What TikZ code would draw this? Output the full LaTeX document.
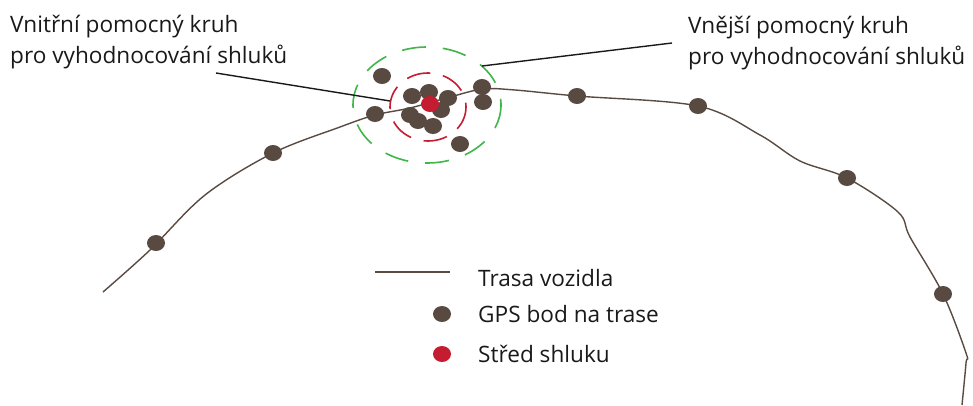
\documentclass[tikz,border=0pt]{standalone}
\usepackage{fontspec}
\setmainfont{Open Sans}
\usetikzlibrary{shapes.geometric}
\definecolor{trackc}{RGB}{90,75,66}
\definecolor{dotc}{RGB}{88,74,64}
\definecolor{centerc}{RGB}{196,28,48}
\definecolor{outerc}{RGB}{62,182,72}
\tikzset{
  gps/.style={ellipse, fill=dotc, inner sep=0pt, minimum width=18pt, minimum height=16pt},
  ctr/.style={ellipse, fill=centerc, inner sep=0pt, minimum width=18pt, minimum height=16pt},
  track/.style={draw=trackc, line width=1.4pt},
  leader/.style={draw=black!90, line width=1.4pt},
  outerring/.style={draw=outerc, line width=1.6pt, dash pattern=on 24pt off 17pt},
  innerring/.style={draw=centerc, line width=1.6pt, dash pattern=on 24pt off 13pt},
  lbl/.style={font=\fontsize{22.6}{31}\selectfont, text=black!90, inner sep=0pt, align=left},
}
\begin{document}
\begin{tikzpicture}[x=1pt, y=-1pt]
\useasboundingbox (0,0) rectangle (973,405);

% vehicle track
\draw[track] plot[smooth, tension=0.55] coordinates {
  (103,292) (150,250) (205,195) (273,153) (340,127) (375,115) (410,108)
  (450,97) (483,89) (515,90) (577,96) (698,106) (760,135) (800,161)
  (847,178) (898,212) (910,237) (943,294) (966,353) (966,363) (962,405)};

% GPS points along the track
\node[gps] (p1) at (156,243) {};
\node[gps] (p2) at (273,153) {};
\node[gps] (p3) at (577,96) {};
\node[gps] (p4) at (698,106) {};
\node[gps] (p5) at (847,178) {};
\node[gps] (p6) at (943,294) {};

% auxiliary rings around the cluster
\draw[outerring] (427,105) ellipse [x radius=74, y radius=58];
\draw[innerring] (428,107) ellipse [x radius=38, y radius=34];

% clustered GPS points
\node[gps] (c1) at (382,76) {};
\node[gps] (c2) at (375,114) {};
\node[gps] (c3) at (482,87) {};
\node[gps] (c4) at (483,102) {};
\node[gps] (c5) at (460,144) {};
\node[gps] (c6) at (448,98) {};
\node[gps] (c7) at (412,96) {};
\node[gps] (c8) at (429,92) {};
\node[gps] (c9) at (441,110) {};
\node[gps] (c10) at (410,115) {};
\node[gps] (c11) at (418,121) {};
\node[gps] (c12) at (433,126) {};
\node[ctr] (ctr) at (430,104) {};

% labels with leader lines (anchored at the baseline of the last line)
\node[lbl, anchor=base west] (inner) at (10,63) {Vnitřní pomocný kruh\\pro vyhodnocování shluků};
\node[lbl, anchor=base west] (outer) at (688,64) {Vnější pomocný kruh\\pro vyhodnocování shluků};
\coordinate (innerstart) at (216,73);
\coordinate (innerend) at (390,101);
\coordinate (outerstart) at (672,43);
\coordinate (outerend) at (482,66);
\draw[leader] (innerstart) -- (innerend);
\draw[leader] (outerstart) -- (outerend);

% legend
\coordinate (la) at (375,272);
\coordinate (lb) at (450,272);
\draw[track] (la) -- (lb);
\node[lbl, anchor=base west] (t1) at (478,286) {Trasa vozidla};
\node[gps] (lg) at (442,314) {};
\node[lbl, anchor=base west] (t2) at (478,322) {GPS bod na trase};
\node[ctr] (lr) at (442,354) {};
\node[lbl, anchor=base west] (t3) at (478,362) {Střed shluku};
\end{tikzpicture}
\end{document}
